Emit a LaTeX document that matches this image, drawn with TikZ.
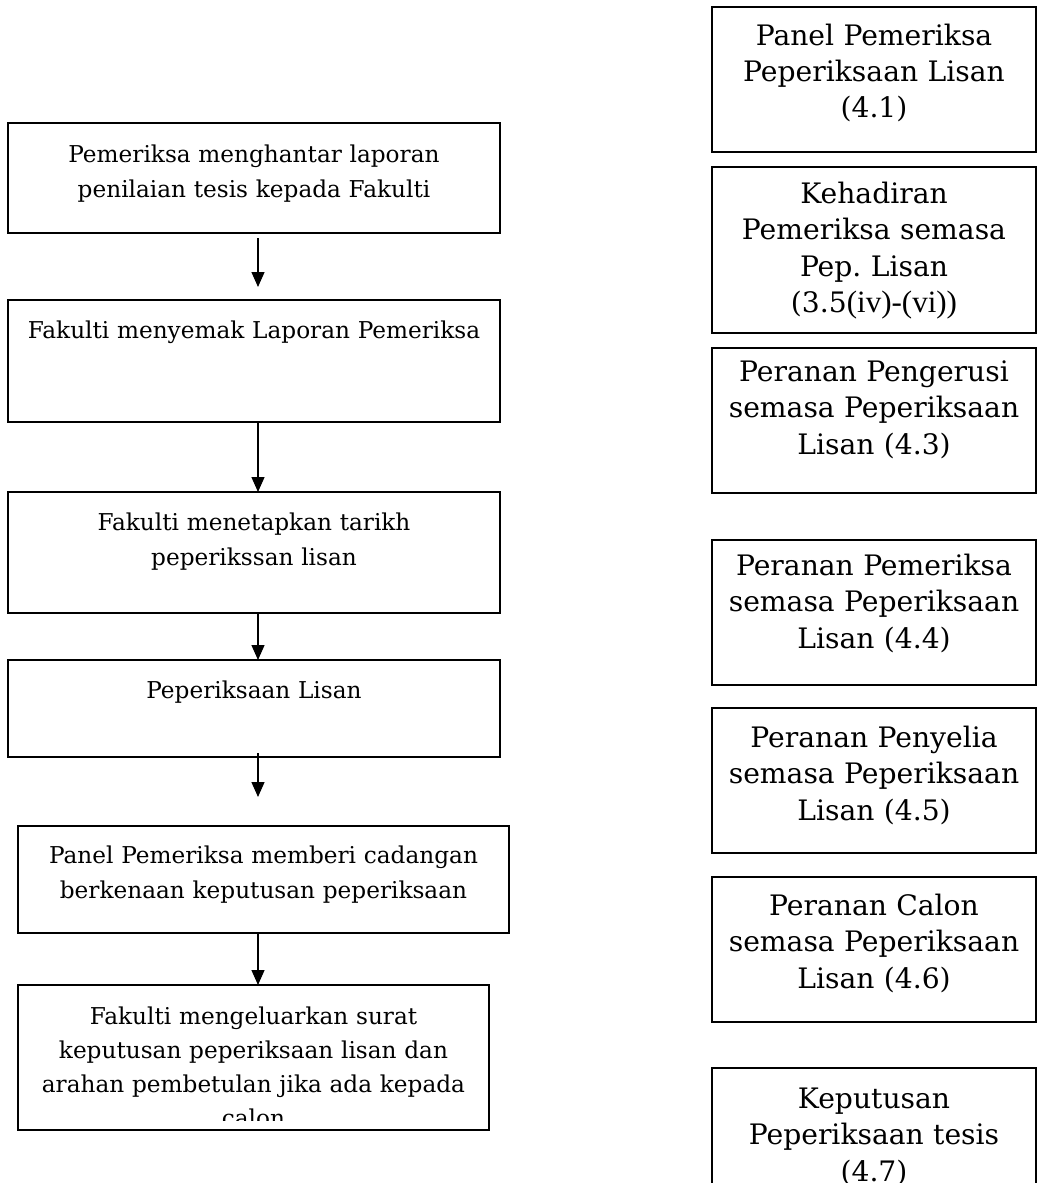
\documentclass[tikz,border=0pt]{standalone}
\usepackage{fontspec}
\setmainfont{DejaVu Serif}
\newfontfamily\timesfont[Scale=1.1]{Liberation Serif}
\frenchspacing
\usetikzlibrary{arrows.meta,positioning}

\begin{document}
\begin{tikzpicture}[x=1pt,y=-1pt,>={Triangle[width=13pt,length=15pt]}]
        \tikzset{block/.style={draw,
                shape=rectangle,
                line width=2pt,
                inner sep=0pt,
                outer sep=0pt,
                align=center,
                anchor=north west
            },
            leftblock/.style={block, text width=492pt,
                font=\fontsize{23.2}{35}\selectfont},
            rightblock/.style={block, text width=324pt,
                font=\fontsize{28.2}{36.5}\selectfont},
            flow/.style={line width=1.3pt}
        }
        \useasboundingbox (0,0) rectangle (1037,1183);
        \clip (0,0) rectangle (1037,1183);
        \coordinate (spine) at (258,0);
%% left column
        \node [leftblock, text height=39pt, text depth=71pt] (hantar) at (8,123)
            {Pemeriksa menghantar laporan\\penilaian tesis kepada Fakulti};
        \node [leftblock, text height=38pt, text depth=84pt, below=67pt of hantar.south west, anchor=north west] (semak)
            {Fakulti menyemak Laporan Pemeriksa};
        \node [leftblock, text height=38pt, text depth=83pt, below=70pt of semak.south west, anchor=north west] (tetap)
            {Fakulti menetapkan tarikh\\peperikssan lisan};
        \node [leftblock, text height=38pt, text depth=59pt, below=47pt of tetap.south west, anchor=north west] (lisan)
            {Peperiksaan Lisan};
        \node [leftblock, text width=491pt, text height=37pt, text depth=70pt, below=69pt of lisan.south west, anchor=north west, xshift=10pt] (cadang)
            {Panel Pemeriksa memberi cadangan\\berkenaan keputusan peperiksaan};
        \begin{scope}
            \clip (18,985) rectangle (489,1120);
            \node [leftblock, draw=none, text width=471pt, text height=39pt, text depth=106pt,
                font=\fontsize{23.2}{34}\selectfont,
                below=52pt of cadang.south west, anchor=north west] (surat)
                {Fakulti mengeluarkan surat\\keputusan peperiksaan lisan dan\\arahan pembetulan jika ada kepada\\calon};
        \end{scope}
        \draw [line width=2pt] (surat.north west) rectangle (surat.south east);
%% right column
        \node [rightblock, text height=38pt, text depth=107pt] (panel) at (712,7)
            {Panel Pemeriksa\\Peperiksaan Lisan\\(4.1)};
        \node [rightblock, text height=36pt, text depth=130pt, below=15pt of panel.south west, anchor=north west] (hadir)
            {Kehadiran\\Pemeriksa semasa\\Pep. Lisan\\(3.5{\timesfont(iv)-(vi))}};
        \node [rightblock, text height=33pt, text depth=112pt, below=15pt of hadir.south west, anchor=north west] (pengerusi)
            {Peranan Pengerusi\\semasa Peperiksaan\\Lisan (4.3)};
        \node [rightblock, text height=35pt, text depth=110pt, below=47pt of pengerusi.south west, anchor=north west] (peranan_pem)
            {Peranan Pemeriksa\\semasa Peperiksaan\\Lisan (4.4)};
        \node [rightblock, text height=39pt, text depth=106pt, below=23pt of peranan_pem.south west, anchor=north west] (penyelia)
            {Peranan Penyelia\\semasa Peperiksaan\\Lisan (4.5)};
        \node [rightblock, text height=38pt, text depth=107pt, below=24pt of penyelia.south west, anchor=north west] (calon)
            {Peranan Calon\\semasa Peperiksaan\\Lisan (4.6)};
        \node [rightblock, text height=40pt, text depth=105pt, below=46pt of calon.south west, anchor=north west] (keputusan)
            {Keputusan\\Peperiksaan tesis\\(4.7)};
%% paths
\path[->,flow]
    (hantar.south -| spine) edge[shorten <=5pt, shorten >=13pt] (semak.north -| spine)
    (semak.south -| spine) edge (tetap.north -| spine)
    (tetap.south -| spine) edge (lisan.north -| spine)
    (lisan.south -| spine) edge[shorten <=-4pt, shorten >=29pt] (cadang.north -| spine)
    (cadang.south -| spine) edge (surat.north -| spine)
;
\end{tikzpicture}
\end{document}
